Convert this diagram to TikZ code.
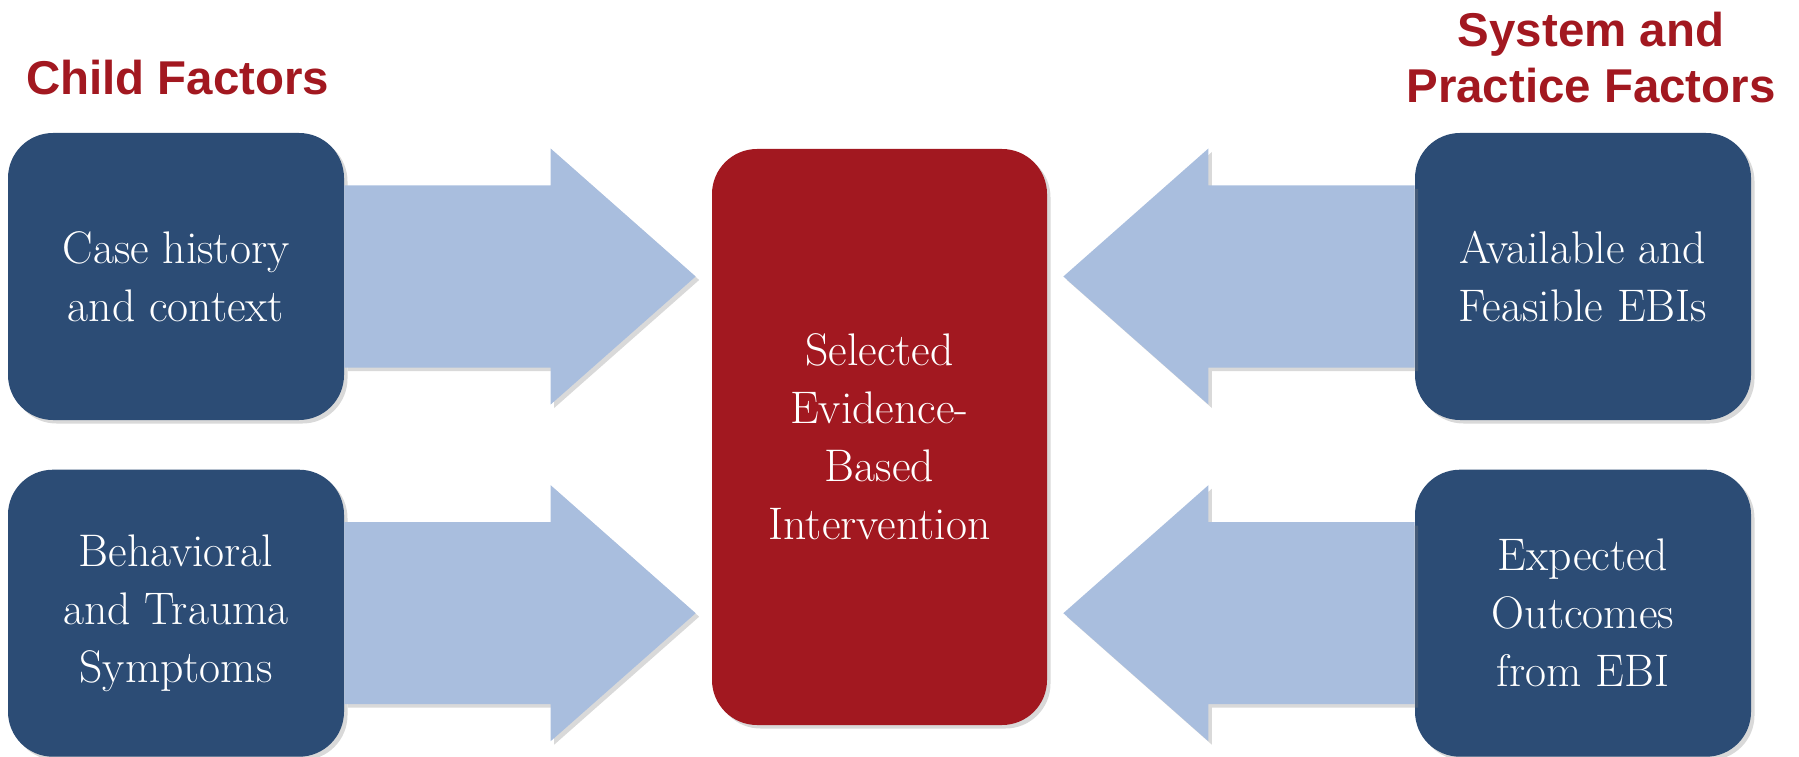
\documentclass[tikz,border=0pt]{standalone}
\usepackage{fontspec}
\newfontfamily\headfont{Liberation Sans}
\usetikzlibrary{positioning,calc,shadows}
\definecolor{boxBlue}{RGB}{44,76,117}
\definecolor{boxRed}{RGB}{162,24,32}
\definecolor{arrowBlue}{RGB}{169,190,222}
\tikzset{
  factorbox/.style={
    rectangle, rounded corners=0.9cm, fill=boxBlue, text=white, align=center,
    minimum width=6.72cm, minimum height=5.74cm, font=\fontsize{26}{33}\selectfont,
    drop shadow={shadow xshift=0.07cm, shadow yshift=-0.07cm, opacity=0.3}},
  ebibox/.style={
    factorbox, fill=boxRed, minimum width=6.7cm, minimum height=11.52cm},
  headtext/.style={
    text=boxRed, align=center, font=\headfont\bfseries\fontsize{27}{32}\selectfont},
  bigarrow/.style={
    fill=arrowBlue, drop shadow={shadow xshift=0.07cm, shadow yshift=-0.07cm, opacity=0.3}}
}
\begin{document}
\begin{tikzpicture}
    \useasboundingbox (0,0) rectangle (35.98,15.12);

    % headings
    \node[headtext, anchor=west] (childhd) at (0.4,13.56) {Child Factors};
    \node[headtext] (syshd) at (31.82,13.97) {System and\\Practice Factors};

    % boxes
    \node[factorbox] (case) at (3.52,9.59) {Case history\\and context};
    \node[factorbox, below=0.98cm of case] (behav) {Behavioral\\and Trauma\\Symptoms};
    \node[ebibox] (ebi) at (17.59,6.38) {Selected\\Evidence-\\Based\\Intervention};
    \node[factorbox] (avail) at (31.66,9.59) {Available and\\Feasible EBIs};
    \node[factorbox, below=0.98cm of avail] (expect) {Expected\\Outcomes\\from EBI};

    % block arrows into the middle box
    \fill[bigarrow] let \p1=(case.east), \p2=(ebi.west) in
        (\x1,\y1+1.82cm) -- (\x2-3.22cm,\y1+1.82cm) -- (\x2-3.22cm,\y1+2.56cm)
        -- (\x2-0.32cm,\y1) -- (\x2-3.22cm,\y1-2.56cm) -- (\x2-3.22cm,\y1-1.82cm)
        -- (\x1,\y1-1.82cm) -- cycle;
    \fill[bigarrow] let \p1=(behav.east), \p2=(ebi.west) in
        (\x1,\y1+1.82cm) -- (\x2-3.22cm,\y1+1.82cm) -- (\x2-3.22cm,\y1+2.56cm)
        -- (\x2-0.32cm,\y1) -- (\x2-3.22cm,\y1-2.56cm) -- (\x2-3.22cm,\y1-1.82cm)
        -- (\x1,\y1-1.82cm) -- cycle;
    \fill[bigarrow] let \p1=(avail.west), \p2=(ebi.east) in
        (\x1,\y1+1.82cm) -- (\x2+3.22cm,\y1+1.82cm) -- (\x2+3.22cm,\y1+2.56cm)
        -- (\x2+0.32cm,\y1) -- (\x2+3.22cm,\y1-2.56cm) -- (\x2+3.22cm,\y1-1.82cm)
        -- (\x1,\y1-1.82cm) -- cycle;
    \fill[bigarrow] let \p1=(expect.west), \p2=(ebi.east) in
        (\x1,\y1+1.82cm) -- (\x2+3.22cm,\y1+1.82cm) -- (\x2+3.22cm,\y1+2.56cm)
        -- (\x2+0.32cm,\y1) -- (\x2+3.22cm,\y1-2.56cm) -- (\x2+3.22cm,\y1-1.82cm)
        -- (\x1,\y1-1.82cm) -- cycle;
\end{tikzpicture}
\end{document}
